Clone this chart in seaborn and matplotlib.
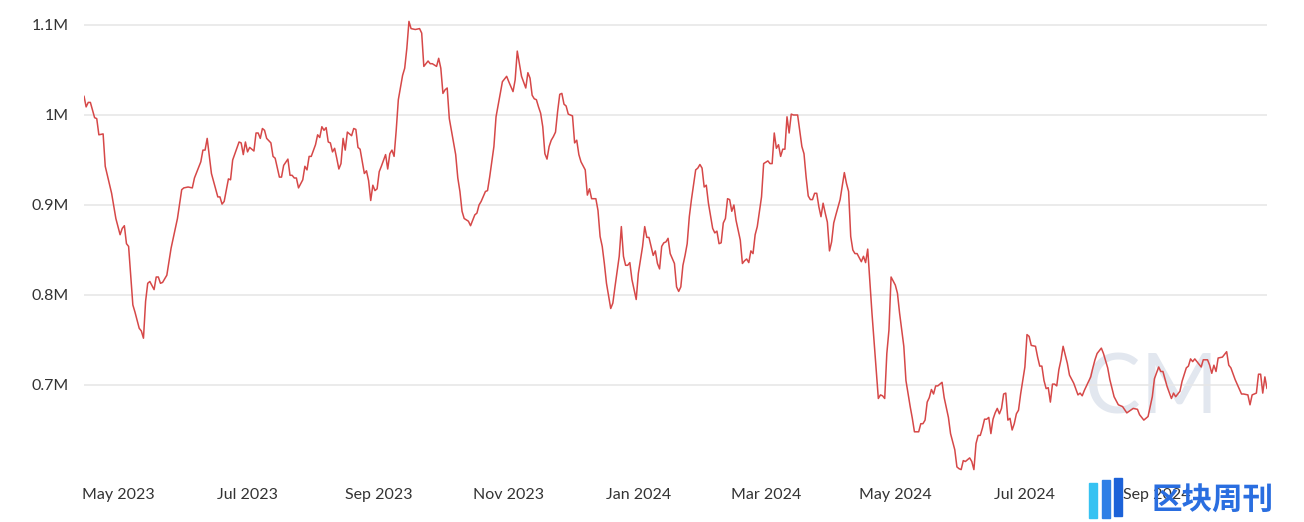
import matplotlib
matplotlib.use("Agg")
import matplotlib.pyplot as plt
import matplotlib.dates as mdates
from matplotlib.ticker import FuncFormatter, FixedLocator
from matplotlib.patches import Rectangle
import seaborn as sns
import pandas as pd

dates = [
"2023-04-15","2023-04-16","2023-04-17","2023-04-18","2023-04-20","2023-04-21","2023-04-22","2023-04-24","2023-04-25","2023-04-28","2023-04-30",
"2023-05-02","2023-05-03","2023-05-04","2023-05-05","2023-05-06","2023-05-08","2023-05-09","2023-05-11","2023-05-12","2023-05-13","2023-05-14",
"2023-05-15","2023-05-16","2023-05-18","2023-05-19","2023-05-20","2023-05-21","2023-05-22","2023-05-24","2023-05-26","2023-05-29","2023-05-31",
"2023-06-01","2023-06-03","2023-06-05","2023-06-06","2023-06-09","2023-06-10","2023-06-11","2023-06-12","2023-06-14","2023-06-17","2023-06-18",
"2023-06-19","2023-06-20","2023-06-22","2023-06-23","2023-06-24","2023-06-27","2023-06-28","2023-06-29","2023-06-30",
"2023-07-01","2023-07-02","2023-07-04","2023-07-05","2023-07-06","2023-07-07","2023-07-08","2023-07-09","2023-07-10","2023-07-12","2023-07-13",
"2023-07-14","2023-07-16","2023-07-17","2023-07-18","2023-07-20","2023-07-21","2023-07-22","2023-07-23","2023-07-24","2023-07-25","2023-07-27",
"2023-07-28","2023-07-29","2023-07-30","2023-07-31",
"2023-08-02","2023-08-03","2023-08-04","2023-08-05","2023-08-06","2023-08-07","2023-08-08","2023-08-09","2023-08-10","2023-08-11","2023-08-12",
"2023-08-13","2023-08-14","2023-08-15","2023-08-16","2023-08-17","2023-08-19","2023-08-20","2023-08-21","2023-08-22","2023-08-23","2023-08-25",
"2023-08-26","2023-08-27","2023-08-28","2023-08-29","2023-08-30","2023-08-31",
"2023-09-01","2023-09-02","2023-09-04","2023-09-05","2023-09-06","2023-09-07","2023-09-08","2023-09-09","2023-09-10","2023-09-12","2023-09-13",
"2023-09-14","2023-09-15","2023-09-16","2023-09-18","2023-09-20","2023-09-21","2023-09-22","2023-09-24","2023-09-25","2023-09-26","2023-09-28",
"2023-09-29","2023-09-30",
"2023-10-01","2023-10-02","2023-10-03","2023-10-04","2023-10-07","2023-10-08","2023-10-09","2023-10-10","2023-10-11","2023-10-13","2023-10-14",
"2023-10-16","2023-10-17","2023-10-18","2023-10-19","2023-10-21","2023-10-22","2023-10-23","2023-10-25","2023-10-26","2023-10-28","2023-10-29",
"2023-10-31",
"2023-11-01","2023-11-03","2023-11-04","2023-11-05","2023-11-06","2023-11-07","2023-11-09","2023-11-10","2023-11-11","2023-11-12","2023-11-13",
"2023-11-14","2023-11-15","2023-11-16","2023-11-17","2023-11-18","2023-11-19","2023-11-20","2023-11-21","2023-11-22","2023-11-23","2023-11-24",
"2023-11-25","2023-11-26","2023-11-27","2023-11-28","2023-11-29",
"2023-12-01","2023-12-02","2023-12-03","2023-12-04","2023-12-05","2023-12-07","2023-12-08","2023-12-09","2023-12-10","2023-12-12","2023-12-13",
"2023-12-14","2023-12-15","2023-12-16","2023-12-17","2023-12-19","2023-12-20","2023-12-21","2023-12-23","2023-12-24","2023-12-25","2023-12-26",
"2023-12-27","2023-12-28","2023-12-29","2023-12-31",
"2024-01-01","2024-01-03","2024-01-04","2024-01-05","2024-01-06","2024-01-07","2024-01-08","2024-01-09","2024-01-10","2024-01-11","2024-01-12",
"2024-01-13","2024-01-14","2024-01-15","2024-01-16","2024-01-18","2024-01-19","2024-01-20","2024-01-21","2024-01-22","2024-01-23","2024-01-24",
"2024-01-25","2024-01-26","2024-01-28","2024-01-29","2024-01-30","2024-01-31",
"2024-02-01","2024-02-02","2024-02-03","2024-02-05","2024-02-06","2024-02-07","2024-02-08","2024-02-09","2024-02-10","2024-02-11","2024-02-12",
"2024-02-13","2024-02-14","2024-02-15","2024-02-16","2024-02-18","2024-02-19","2024-02-20","2024-02-21","2024-02-22","2024-02-23","2024-02-24",
"2024-02-25","2024-02-26","2024-02-28","2024-02-29",
"2024-03-02","2024-03-03","2024-03-04","2024-03-05","2024-03-06","2024-03-07","2024-03-08","2024-03-09","2024-03-10","2024-03-11","2024-03-12",
"2024-03-13","2024-03-14","2024-03-15","2024-03-16","2024-03-18","2024-03-19","2024-03-20","2024-03-21","2024-03-22","2024-03-23","2024-03-24",
"2024-03-25","2024-03-26","2024-03-27","2024-03-28","2024-03-29","2024-03-30","2024-03-31",
"2024-04-01","2024-04-02","2024-04-03","2024-04-05","2024-04-07","2024-04-08","2024-04-09","2024-04-10","2024-04-11","2024-04-12","2024-04-13",
"2024-04-15","2024-04-16","2024-04-17","2024-04-18","2024-04-20","2024-04-22","2024-04-23","2024-04-24","2024-04-25","2024-04-26","2024-04-27",
"2024-04-28","2024-04-29",
"2024-05-01","2024-05-02","2024-05-03","2024-05-05","2024-05-06","2024-05-08","2024-05-09","2024-05-10","2024-05-11","2024-05-12","2024-05-13",
"2024-05-14","2024-05-15","2024-05-16","2024-05-17","2024-05-18","2024-05-19","2024-05-20","2024-05-21","2024-05-23","2024-05-24","2024-05-26",
"2024-05-27","2024-05-29","2024-05-30","2024-05-31",
"2024-06-01","2024-06-02","2024-06-03","2024-06-05","2024-06-06","2024-06-07","2024-06-08","2024-06-09","2024-06-10","2024-06-11","2024-06-12",
"2024-06-13","2024-06-14","2024-06-15","2024-06-16","2024-06-17","2024-06-18","2024-06-19","2024-06-20","2024-06-21","2024-06-22","2024-06-23",
"2024-06-24","2024-06-25","2024-06-26","2024-06-27","2024-06-28","2024-06-29",
"2024-07-01","2024-07-02","2024-07-03","2024-07-04","2024-07-06","2024-07-07","2024-07-08","2024-07-09","2024-07-10","2024-07-11","2024-07-12",
"2024-07-13","2024-07-14","2024-07-15","2024-07-16","2024-07-17","2024-07-18","2024-07-19","2024-07-21","2024-07-22","2024-07-24","2024-07-26",
"2024-07-27","2024-07-28","2024-07-29",
"2024-08-01","2024-08-02","2024-08-03","2024-08-04","2024-08-06","2024-08-07","2024-08-09","2024-08-10","2024-08-12","2024-08-14","2024-08-16",
"2024-08-18","2024-08-21","2024-08-23","2024-08-24","2024-08-26","2024-08-28","2024-08-30","2024-08-31",
"2024-09-02","2024-09-03","2024-09-04","2024-09-06","2024-09-08","2024-09-09","2024-09-10","2024-09-12","2024-09-13","2024-09-15","2024-09-16",
"2024-09-17","2024-09-18","2024-09-19","2024-09-21","2024-09-22","2024-09-23","2024-09-25","2024-09-26","2024-09-27","2024-09-28","2024-09-29",
"2024-09-30",
"2024-10-02","2024-10-04","2024-10-05","2024-10-06","2024-10-08","2024-10-11","2024-10-12","2024-10-14","2024-10-15","2024-10-16","2024-10-18",
"2024-10-19","2024-10-20","2024-10-21","2024-10-22","2024-10-23",
]

values_m = [
1.021,1.009,1.014,1.014,0.997,0.996,0.978,0.979,0.943,0.913,0.885,
0.867,0.874,0.877,0.857,0.854,0.789,0.781,0.763,0.760,0.752,0.793,
0.813,0.815,0.806,0.820,0.820,0.813,0.814,0.822,0.852,0.885,0.917,
0.919,0.920,0.919,0.930,0.948,0.961,0.961,0.974,0.935,0.909,0.909,
0.901,0.904,0.929,0.928,0.950,0.970,0.969,0.956,0.970,
0.959,0.964,0.960,0.980,0.980,0.974,0.985,0.983,0.974,0.969,0.954,
0.952,0.931,0.931,0.944,0.951,0.933,0.933,0.930,0.930,0.919,0.928,
0.943,0.939,0.954,0.954,
0.967,0.978,0.975,0.987,0.983,0.986,0.970,0.969,0.959,0.963,0.952,
0.940,0.946,0.974,0.961,0.981,0.977,0.985,0.984,0.964,0.962,0.935,
0.938,0.927,0.905,0.922,0.916,0.918,
0.937,0.943,0.956,0.940,0.957,0.961,0.954,0.983,1.017,1.044,1.052,
1.074,1.104,1.096,1.095,1.096,1.091,1.054,1.060,1.057,1.057,1.054,
1.063,1.052,
1.024,1.028,1.030,0.996,0.956,0.930,0.915,0.893,0.885,0.882,0.877,
0.889,0.891,0.900,0.904,0.915,0.916,0.931,0.965,0.998,1.024,1.037,
1.043,
1.037,1.026,1.039,1.071,1.057,1.043,1.030,1.047,1.041,1.022,1.018,
1.017,1.009,1.002,0.987,0.957,0.951,0.965,0.972,0.976,0.981,1.004,
1.023,1.024,1.012,1.010,1.001,
0.999,0.969,0.972,0.956,0.948,0.939,0.911,0.918,0.907,0.907,0.894,
0.865,0.854,0.835,0.813,0.785,0.791,0.809,0.843,0.876,0.843,0.833,
0.833,0.836,0.817,0.795,
0.824,0.854,0.876,0.864,0.864,0.854,0.844,0.849,0.835,0.829,0.854,
0.858,0.859,0.863,0.846,0.835,0.809,0.804,0.809,0.833,0.844,0.857,
0.887,0.906,0.939,0.941,0.945,0.941,
0.920,0.922,0.902,0.874,0.869,0.871,0.857,0.858,0.880,0.885,0.907,
0.906,0.893,0.900,0.883,0.861,0.835,0.838,0.840,0.836,0.849,0.846,
0.867,0.876,0.909,0.946,
0.949,0.946,0.946,0.980,0.963,0.967,0.954,0.962,0.962,0.998,0.980,
1.001,1.000,1.000,1.000,0.965,0.957,0.931,0.910,0.906,0.906,0.913,
0.913,0.898,0.887,0.902,0.891,0.881,0.849,
0.859,0.880,0.889,0.906,0.936,0.924,0.915,0.865,0.850,0.846,0.846,
0.837,0.843,0.836,0.851,0.780,0.717,0.685,0.689,0.688,0.685,0.735,
0.761,0.820,
0.811,0.802,0.780,0.743,0.705,0.676,0.663,0.648,0.648,0.648,0.657,
0.657,0.661,0.681,0.686,0.695,0.690,0.699,0.699,0.703,0.686,0.664,
0.646,0.628,0.609,0.607,
0.606,0.616,0.615,0.619,0.615,0.606,0.635,0.644,0.644,0.652,0.662,
0.662,0.664,0.646,0.662,0.669,0.674,0.668,0.674,0.690,0.691,0.661,
0.663,0.650,0.657,0.668,0.672,0.690,
0.720,0.756,0.754,0.744,0.743,0.731,0.721,0.721,0.705,0.696,0.697,
0.681,0.701,0.701,0.699,0.717,0.728,0.743,0.724,0.711,0.702,0.689,
0.691,0.688,0.694,
0.709,0.719,0.728,0.735,0.741,0.735,0.719,0.706,0.687,0.678,0.676,
0.669,0.674,0.673,0.667,0.661,0.665,0.687,0.707,
0.720,0.715,0.715,0.698,0.685,0.691,0.687,0.693,0.704,0.719,0.721,
0.729,0.726,0.729,0.723,0.720,0.728,0.728,0.722,0.713,0.722,0.715,
0.730,
0.731,0.737,0.722,0.719,0.706,0.690,0.690,0.689,0.678,0.689,0.691,
0.712,0.712,0.691,0.709,0.696,
]

ytick_values = [0.7, 0.8, 0.9, 1.0, 1.1]
month_ticks = [1, 3, 5, 7, 9, 11]

df = pd.DataFrame({"date": pd.to_datetime(dates), "value": values_m})

sns.set_style("white")
plt.rcParams["font.family"] = ["Lato", "Noto Sans CJK SC", "DejaVu Sans"]

W, H = 1304, 522
fig = plt.figure(figsize=(W / 100, H / 100), dpi=100)
ax = fig.add_axes([84 / W, 1 - 479.5 / H, (1267 - 84) / W, (479.5 - 14.2) / H])

sns.lineplot(data=df, x="date", y="value", ax=ax, color="#d64848", linewidth=1.1, zorder=3)

# watermark behind the line (drawn inside the axes with a low zorder)
ax.text(1152 / W, 1 - 391 / H, "CM", fontsize=60, fontweight="normal", color="#e2e7ef",
        ha="center", va="center", family="Lato", zorder=0.5, transform=fig.transFigure)

ax.set_xlim(df["date"].iloc[0], df["date"].iloc[-1])
ax.set_ylim(0.595, 1.112)
ax.yaxis.set_major_locator(FixedLocator(ytick_values))
ax.yaxis.set_major_formatter(FuncFormatter(lambda v, p: f"{round(v, 1):g}M"))
ax.xaxis.set_major_locator(mdates.MonthLocator(bymonth=month_ticks))
ax.xaxis.set_major_formatter(mdates.DateFormatter("%b %Y"))

ax.set_axisbelow(True)
ax.grid(axis="y", color="#e6e6e6", linewidth=1.1)
ax.grid(axis="x", visible=False)
for s in ax.spines.values():
    s.set_visible(False)
ax.tick_params(axis="both", length=0, labelsize=11.5, labelcolor="#333333")
ax.tick_params(axis="y", pad=11)
ax.tick_params(axis="x", pad=6)
ax.set_xlabel("")
ax.set_ylabel("")

# logo in the bottom-right corner
for (x0, y0, x1, y1, c) in [(1089, 483, 1097, 518, "#36c2f2"),
                            (1102, 480, 1110, 518, "#2f7fe6"),
                            (1114, 478, 1122, 516, "#1c62d8")]:
    fig.add_artist(Rectangle((x0 / W, 1 - y1 / H), (x1 - x0) / W, (y1 - y0) / H,
                             transform=fig.transFigure, color=c, zorder=5))
fig.text(1213 / W, 1 - 500 / H, "区块周刊", fontsize=22, fontweight="bold", color="#2a6ee0",
         ha="center", va="center", family=["Noto Sans CJK SC"], zorder=5)

fig.savefig("out.png", dpi=100, facecolor="white")
